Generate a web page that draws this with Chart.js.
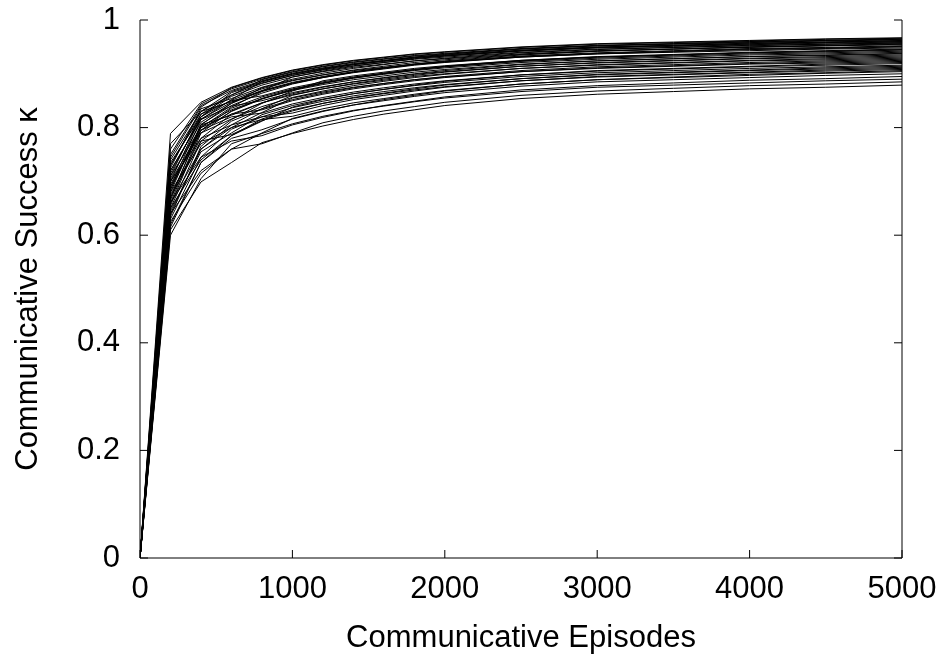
<!DOCTYPE html>
<html>
<head>
<meta charset="utf-8">
<script src="https://cdn.jsdelivr.net/npm/chart.js@4/dist/chart.umd.min.js"></script>
<style>
  html, body { margin: 0; padding: 0; background: #fff; }
  #wrap { width: 941px; height: 660px; }
</style>
</head>
<body>
<div id="wrap"><canvas id="successChart"></canvas></div>
<script>
// episodes at which communicative success was sampled
var episodes = [0, 200, 400, 600, 800, 1000, 1200, 1400, 1600, 1800, 2000, 2500, 3000, 3500, 4000, 4500, 5000];
var xTickLabels = ['0', '1000', '2000', '3000', '4000', '5000'];
var yTickLabels = ['0', '0.2', '0.4', '0.6', '0.8', '1'];

// one array per simulation run
var run01 = [0, 0.610, 0.699, 0.735, 0.772, 0.789, 0.803, 0.815, 0.825, 0.833, 0.841, 0.854, 0.862, 0.867, 0.872, 0.875, 0.879];
var run02 = [0, 0.640, 0.720, 0.760, 0.770, 0.790, 0.809, 0.821, 0.831, 0.839, 0.847, 0.860, 0.868, 0.873, 0.878, 0.881, 0.885];
var run03 = [0, 0.600, 0.705, 0.770, 0.789, 0.807, 0.821, 0.832, 0.840, 0.848, 0.855, 0.867, 0.875, 0.879, 0.883, 0.887, 0.890];
var run04 = [0, 0.660, 0.745, 0.775, 0.785, 0.805, 0.819, 0.831, 0.841, 0.849, 0.857, 0.870, 0.878, 0.883, 0.888, 0.891, 0.895];
var run05 = [0, 0.625, 0.715, 0.760, 0.790, 0.817, 0.831, 0.842, 0.850, 0.858, 0.865, 0.877, 0.885, 0.889, 0.893, 0.897, 0.900];
var run06 = [0, 0.680, 0.770, 0.800, 0.815, 0.821, 0.835, 0.846, 0.854, 0.862, 0.869, 0.881, 0.889, 0.893, 0.897, 0.901, 0.904];
var run07 = [0, 0.615, 0.735, 0.780, 0.796, 0.816, 0.830, 0.842, 0.852, 0.860, 0.868, 0.881, 0.889, 0.894, 0.899, 0.902, 0.906];
var run08 = [0, 0.650, 0.740, 0.785, 0.816, 0.833, 0.845, 0.855, 0.863, 0.870, 0.876, 0.887, 0.894, 0.898, 0.902, 0.905, 0.908];
var run09 = [0, 0.700, 0.780, 0.805, 0.820, 0.827, 0.841, 0.852, 0.860, 0.868, 0.875, 0.887, 0.895, 0.899, 0.903, 0.907, 0.910];
var run10 = [0, 0.630, 0.745, 0.797, 0.820, 0.837, 0.849, 0.859, 0.867, 0.874, 0.880, 0.891, 0.898, 0.902, 0.906, 0.909, 0.912];
var run11 = [0, 0.670, 0.775, 0.787, 0.813, 0.831, 0.845, 0.856, 0.864, 0.872, 0.879, 0.891, 0.899, 0.903, 0.907, 0.911, 0.914];
var run12 = [0, 0.645, 0.755, 0.790, 0.824, 0.841, 0.853, 0.863, 0.871, 0.878, 0.884, 0.895, 0.902, 0.906, 0.910, 0.913, 0.916];
var run13 = [0, 0.690, 0.795, 0.820, 0.827, 0.844, 0.856, 0.866, 0.874, 0.881, 0.887, 0.898, 0.905, 0.909, 0.913, 0.916, 0.919];
var run14 = [0, 0.620, 0.735, 0.785, 0.812, 0.838, 0.852, 0.863, 0.871, 0.879, 0.886, 0.898, 0.906, 0.910, 0.914, 0.918, 0.921];
var run15 = [0, 0.660, 0.760, 0.800, 0.828, 0.855, 0.866, 0.875, 0.882, 0.889, 0.894, 0.904, 0.910, 0.914, 0.918, 0.920, 0.923];
var run16 = [0, 0.710, 0.800, 0.825, 0.833, 0.850, 0.862, 0.872, 0.880, 0.887, 0.893, 0.904, 0.911, 0.915, 0.919, 0.922, 0.925];
var run17 = [0, 0.635, 0.765, 0.812, 0.835, 0.852, 0.864, 0.874, 0.882, 0.889, 0.895, 0.906, 0.913, 0.917, 0.921, 0.924, 0.927];
var run18 = [0, 0.675, 0.780, 0.825, 0.846, 0.861, 0.872, 0.881, 0.888, 0.895, 0.900, 0.910, 0.916, 0.920, 0.924, 0.926, 0.929];
var run19 = [0, 0.655, 0.790, 0.816, 0.839, 0.856, 0.868, 0.878, 0.886, 0.893, 0.899, 0.910, 0.917, 0.921, 0.925, 0.928, 0.931];
var run20 = [0, 0.720, 0.815, 0.840, 0.850, 0.865, 0.876, 0.885, 0.892, 0.899, 0.904, 0.914, 0.920, 0.924, 0.928, 0.930, 0.933];
var run21 = [0, 0.640, 0.760, 0.805, 0.835, 0.860, 0.872, 0.882, 0.890, 0.897, 0.903, 0.914, 0.921, 0.925, 0.929, 0.932, 0.935];
var run22 = [0, 0.685, 0.802, 0.833, 0.854, 0.869, 0.880, 0.889, 0.896, 0.903, 0.908, 0.918, 0.924, 0.928, 0.932, 0.934, 0.937];
var run23 = [0, 0.665, 0.805, 0.823, 0.846, 0.863, 0.875, 0.885, 0.893, 0.900, 0.906, 0.917, 0.924, 0.928, 0.932, 0.935, 0.938];
var run24 = [0, 0.730, 0.825, 0.850, 0.859, 0.874, 0.885, 0.894, 0.901, 0.908, 0.913, 0.923, 0.929, 0.933, 0.937, 0.939, 0.942];
var run25 = [0, 0.650, 0.775, 0.815, 0.845, 0.868, 0.887, 0.896, 0.903, 0.910, 0.915, 0.925, 0.931, 0.935, 0.939, 0.941, 0.944];
var run26 = [0, 0.695, 0.790, 0.831, 0.854, 0.871, 0.883, 0.893, 0.901, 0.908, 0.914, 0.925, 0.932, 0.936, 0.940, 0.943, 0.946];
var run27 = [0, 0.705, 0.810, 0.845, 0.874, 0.888, 0.898, 0.906, 0.912, 0.918, 0.922, 0.931, 0.937, 0.940, 0.943, 0.946, 0.948];
var run28 = [0, 0.670, 0.800, 0.838, 0.867, 0.882, 0.893, 0.902, 0.909, 0.916, 0.921, 0.931, 0.937, 0.941, 0.945, 0.947, 0.950];
var run29 = [0, 0.740, 0.830, 0.848, 0.869, 0.884, 0.895, 0.904, 0.911, 0.918, 0.923, 0.933, 0.939, 0.943, 0.947, 0.949, 0.952];
var run30 = [0, 0.680, 0.805, 0.845, 0.868, 0.894, 0.904, 0.912, 0.918, 0.924, 0.928, 0.937, 0.943, 0.946, 0.949, 0.952, 0.954];
var run31 = [0, 0.715, 0.820, 0.851, 0.872, 0.887, 0.898, 0.907, 0.914, 0.921, 0.926, 0.936, 0.942, 0.946, 0.950, 0.952, 0.955];
var run32 = [0, 0.700, 0.820, 0.865, 0.883, 0.897, 0.907, 0.915, 0.921, 0.927, 0.931, 0.940, 0.946, 0.949, 0.952, 0.955, 0.957];
var run33 = [0, 0.725, 0.835, 0.854, 0.875, 0.890, 0.901, 0.910, 0.917, 0.924, 0.929, 0.939, 0.945, 0.949, 0.953, 0.955, 0.958];
var run34 = [0, 0.690, 0.815, 0.852, 0.886, 0.900, 0.910, 0.918, 0.924, 0.930, 0.934, 0.943, 0.949, 0.952, 0.955, 0.958, 0.960];
var run35 = [0, 0.750, 0.841, 0.869, 0.887, 0.901, 0.911, 0.919, 0.925, 0.931, 0.935, 0.944, 0.950, 0.953, 0.956, 0.959, 0.961];
var run36 = [0, 0.735, 0.820, 0.858, 0.879, 0.894, 0.905, 0.914, 0.921, 0.928, 0.933, 0.943, 0.949, 0.953, 0.957, 0.959, 0.962];
var run37 = [0, 0.710, 0.825, 0.860, 0.889, 0.903, 0.913, 0.921, 0.927, 0.933, 0.937, 0.946, 0.952, 0.955, 0.958, 0.961, 0.963];
var run38 = [0, 0.760, 0.844, 0.872, 0.890, 0.904, 0.914, 0.922, 0.928, 0.934, 0.938, 0.947, 0.953, 0.956, 0.959, 0.962, 0.964];
var run39 = [0, 0.745, 0.838, 0.874, 0.892, 0.906, 0.916, 0.924, 0.930, 0.936, 0.940, 0.949, 0.955, 0.958, 0.961, 0.964, 0.966];
var run40 = [0, 0.789, 0.847, 0.875, 0.893, 0.907, 0.917, 0.925, 0.931, 0.937, 0.941, 0.950, 0.956, 0.959, 0.962, 0.965, 0.967];
var run41 = [0, 0.700, 0.795, 0.836, 0.857, 0.872, 0.883, 0.892, 0.899, 0.906, 0.911, 0.921, 0.927, 0.931, 0.935, 0.937, 0.940];
var run42 = [0, 0.660, 0.795, 0.830, 0.853, 0.870, 0.882, 0.892, 0.900, 0.907, 0.913, 0.924, 0.931, 0.935, 0.939, 0.942, 0.945];
var run43 = [0, 0.720, 0.816, 0.847, 0.868, 0.883, 0.894, 0.903, 0.910, 0.917, 0.922, 0.932, 0.938, 0.942, 0.946, 0.948, 0.951];
var run44 = [0, 0.685, 0.806, 0.841, 0.864, 0.881, 0.893, 0.903, 0.911, 0.918, 0.924, 0.935, 0.942, 0.946, 0.950, 0.953, 0.956];
var run45 = [0, 0.730, 0.830, 0.867, 0.885, 0.899, 0.909, 0.917, 0.923, 0.929, 0.933, 0.942, 0.948, 0.951, 0.954, 0.957, 0.959];
var run46 = [0, 0.770, 0.830, 0.861, 0.882, 0.897, 0.908, 0.917, 0.924, 0.931, 0.936, 0.946, 0.952, 0.956, 0.960, 0.962, 0.965];

var runs = [run01, run02, run03, run04, run05, run06, run07, run08, run09, run10,
            run11, run12, run13, run14, run15, run16, run17, run18, run19, run20,
            run21, run22, run23, run24, run25, run26, run27, run28, run29, run30,
            run31, run32, run33, run34, run35, run36, run37, run38, run39, run40,
            run41, run42, run43, run44, run45, run46];

var FONT = 'Liberation Sans, Arial, Helvetica, sans-serif';

// keep the plot box fixed, labels may hang over the edges
function noPadding(s) {
    s.paddingTop = 0; s.paddingBottom = 0; s.paddingLeft = 0; s.paddingRight = 0;
}

// gnuplot style frame: left, right and bottom border with inward ticks
var framePlugin = {
    id: 'frame',
    afterDraw: function(chart) {
        var ctx = chart.ctx;
        var a = chart.chartArea;
        var xs = chart.scales.x, ys = chart.scales.y;
        var tick = 8;
        ctx.save();
        ctx.strokeStyle = '#000';
        ctx.lineWidth = 1;
        ctx.beginPath();
        ctx.moveTo(a.left, a.top);
        ctx.lineTo(a.left, a.bottom);
        ctx.lineTo(a.right, a.bottom);
        ctx.lineTo(a.right, a.top);
        ys.ticks.forEach(function(t) {
            var y = ys.getPixelForValue(t.value);
            ctx.moveTo(a.left, y); ctx.lineTo(a.left + tick, y);
            ctx.moveTo(a.right, y); ctx.lineTo(a.right - tick, y);
        });
        xs.ticks.forEach(function(t) {
            var x = xs.getPixelForValue(t.value);
            ctx.moveTo(x, a.bottom); ctx.lineTo(x, a.bottom - tick);
        });
        ctx.stroke();
        ctx.restore();
    }
};

var ctxSuccess = document.getElementById('successChart').getContext('2d');
var successChart = new Chart(ctxSuccess, {
    type: 'line',
    data: {
        labels: episodes,
        datasets: runs.map(function(r, i) {
            return {
                label: 'run ' + (i + 1),
                data: r.map(function(v, j) { return { x: episodes[j], y: v }; }),
                borderColor: '#000',
                borderWidth: 1,
                pointRadius: 0,
                tension: 0,
                fill: false
            };
        })
    },
    options: {
        responsive: true,
        maintainAspectRatio: false,
        animation: false,
        layout: { padding: { top: 20, right: 39, left: 0, bottom: 0 } },
        plugins: { legend: { display: false }, tooltip: { enabled: false } },
        scales: {
            x: {
                type: 'linear',
                min: 0, max: 5000,
                afterFit: function(s) { s.height = 102; noPadding(s); },
                grid: { display: false, drawTicks: false },
                border: { display: false },
                ticks: {
                    stepSize: 1000,
                    padding: 13,
                    color: '#000',
                    font: { family: FONT, size: 31 },
                    maxRotation: 0,
                    callback: function(v, i) { return xTickLabels[i]; }
                },
                title: {
                    display: true,
                    text: 'Communicative Episodes',
                    color: '#000',
                    font: { family: FONT, size: 31 },
                    padding: { top: 0, bottom: 3 }
                }
            },
            y: {
                min: 0, max: 1,
                afterFit: function(s) { s.width = 140; noPadding(s); },
                grid: { display: false, drawTicks: false },
                border: { display: false },
                ticks: {
                    stepSize: 0.2,
                    padding: 20,
                    color: '#000',
                    font: { family: FONT, size: 31 },
                    callback: function(v, i) { return yTickLabels[i]; }
                },
                title: {
                    display: true,
                    text: 'Communicative Success \u03ba',
                    color: '#000',
                    font: { family: FONT, size: 31 },
                    padding: { top: 10, bottom: 0 }
                }
            }
        }
    },
    plugins: [framePlugin]
});
</script>
</body>
</html>
